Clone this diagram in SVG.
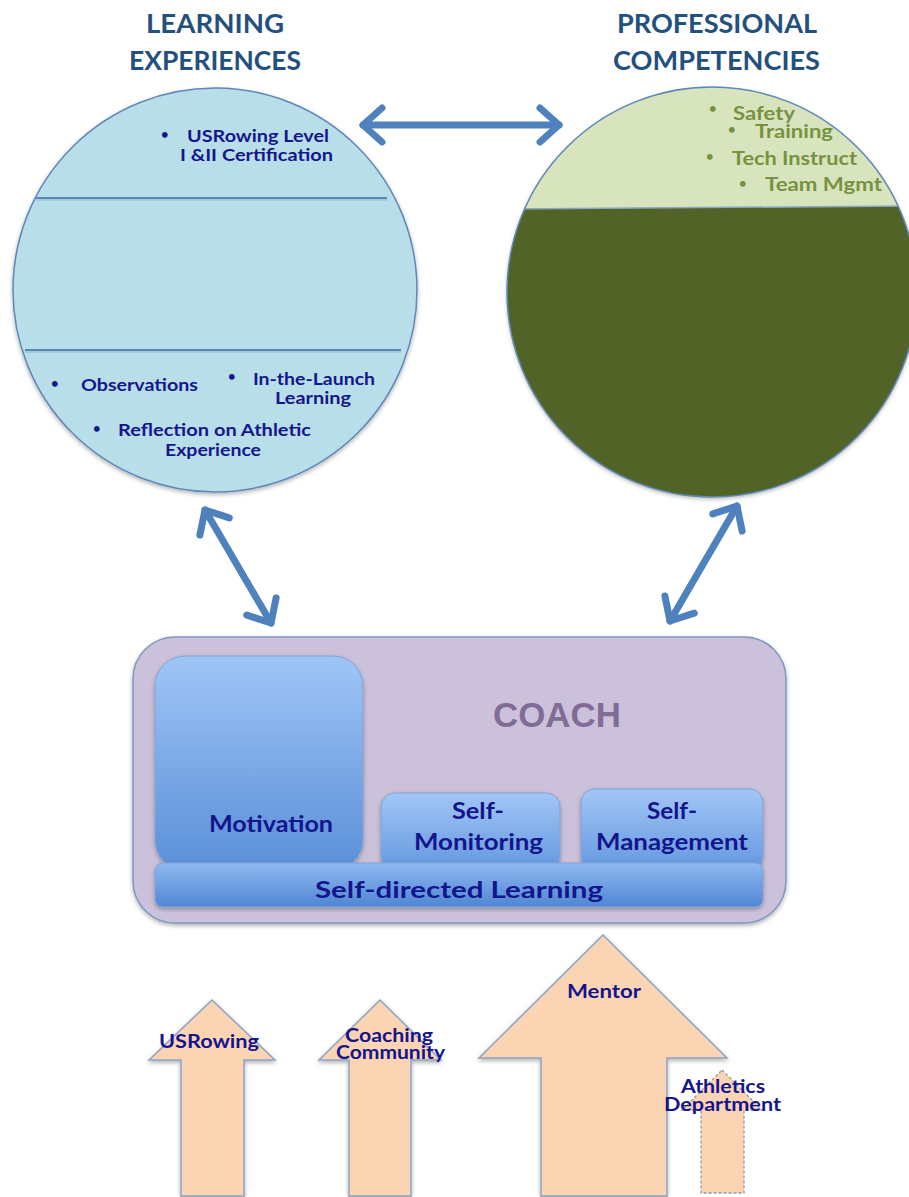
<svg xmlns="http://www.w3.org/2000/svg" width="909" height="1197" viewBox="0 0 909 1197">
<style>
.title{font-family:Lato,"Open Sans","Liberation Sans",sans-serif;font-weight:bold;font-size:27px;fill:#23507d}
.lt{font-family:Lato,"Open Sans","Liberation Sans",sans-serif;font-weight:bold;font-size:17px;fill:#16168c}
.rt{font-family:Lato,"Open Sans","Liberation Sans",sans-serif;font-weight:bold;font-size:19px;fill:#77923f}
.bl{font-size:13px}
.bx{font-family:Lato,"Open Sans","Liberation Sans",sans-serif;font-weight:bold;font-size:22px;fill:#14148c}
.ar{font-family:Lato,"Open Sans","Liberation Sans",sans-serif;font-weight:bold;font-size:19px;fill:#14148c}
.coach{font-family:"Liberation Sans",Arial,sans-serif;font-weight:bold;font-size:35px;fill:#806c96}
.conn{fill:none;stroke:#4f81bd;stroke-width:7;stroke-linecap:round;marker-start:url(#chev);marker-end:url(#chev)}
.up{fill:#fbd4b4;stroke:#8ca3c4;stroke-width:1.5;filter:url(#sh)}
.div{stroke:#5a85b2;stroke-width:2}
.blue{stroke:#7fa4d9;stroke-width:1}
</style>
<defs>
<marker id="chev" markerUnits="userSpaceOnUse" markerWidth="50" markerHeight="50" viewBox="-30 -25 50 50" refX="0" refY="0" orient="auto-start-reverse" overflow="visible">
<path d="M-19,-17 L0,0 L-19,17" fill="none" stroke="#4f81bd" stroke-width="7" stroke-linecap="round" stroke-linejoin="round"/>
</marker>
<filter id="sh" x="-10%" y="-10%" width="120%" height="120%">
<feDropShadow dx="0" dy="2" stdDeviation="2" flood-color="#000" flood-opacity="0.3"/>
</filter>
<linearGradient id="gb" x1="0" y1="0" x2="0" y2="1">
<stop offset="0" stop-color="#9fc5f6"/>
<stop offset="1" stop-color="#5a8fd8"/>
</linearGradient>
<linearGradient id="gs" x1="0" y1="0" x2="0" y2="1">
<stop offset="0" stop-color="#a2c6f6"/>
<stop offset="1" stop-color="#6398df"/>
</linearGradient>
<linearGradient id="gbar" x1="0" y1="0" x2="0" y2="1">
<stop offset="0" stop-color="#8fbaf2"/>
<stop offset="0.5" stop-color="#6f9fe2"/>
<stop offset="1" stop-color="#4f86d3"/>
</linearGradient>
<clipPath id="cl"><circle cx="215" cy="290" r="202"/></clipPath>
<clipPath id="cr"><circle cx="712" cy="292" r="205"/></clipPath>
</defs>
<rect width="909" height="1197" fill="#fff"/>

<g id="title-learning">
<text class="title" x="146" y="33" textLength="138" lengthAdjust="spacingAndGlyphs">LEARNING</text>
<text class="title" x="129" y="70" textLength="172" lengthAdjust="spacingAndGlyphs">EXPERIENCES</text>
</g>
<g id="title-professional">
<text class="title" x="617" y="33" textLength="200" lengthAdjust="spacingAndGlyphs">PROFESSIONAL</text>
<text class="title" x="613" y="70" textLength="207" lengthAdjust="spacingAndGlyphs">COMPETENCIES</text>
</g>

<g id="learning-experiences">
<circle cx="215" cy="290" r="202" fill="#b8dee9" stroke="#5f88b8" stroke-width="1.5" filter="url(#sh)"/>
<g clip-path="url(#cl)">
<line class="div" x1="36" y1="198" x2="387" y2="198"/>
<line x1="36" y1="200" x2="387" y2="200" stroke="#9cc3da" stroke-width="1.5"/>
<line class="div" x1="25" y1="350" x2="401" y2="350"/>
<line x1="25" y1="352" x2="401" y2="352" stroke="#9cc3da" stroke-width="1.5"/>
</g>
<text class="lt bl" x="161" y="139">•</text>
<text class="lt" x="187" y="142" textLength="142" lengthAdjust="spacingAndGlyphs">USRowing Level</text>
<text class="lt" x="180" y="161" textLength="153" lengthAdjust="spacingAndGlyphs">I &amp;II Certification</text>
<text class="lt bl" x="51" y="388">•</text>
<text class="lt" x="81" y="391" textLength="117" lengthAdjust="spacingAndGlyphs">Observations</text>
<text class="lt bl" x="228" y="381">•</text>
<text class="lt" x="253" y="385" textLength="122" lengthAdjust="spacingAndGlyphs">In-the-Launch</text>
<text class="lt" x="275" y="404" textLength="76" lengthAdjust="spacingAndGlyphs">Learning</text>
<text class="lt bl" x="93" y="433">•</text>
<text class="lt" x="118" y="436" textLength="193" lengthAdjust="spacingAndGlyphs">Reflection on Athletic</text>
<text class="lt" x="165" y="456" textLength="96" lengthAdjust="spacingAndGlyphs">Experience</text>
</g>

<g id="professional-competencies">
<circle cx="712" cy="292" r="205" fill="#516328" filter="url(#sh)"/>
<polygon points="500,80 920,80 920,206 500,209" fill="#d7e4bd" clip-path="url(#cr)"/>
<line x1="500" y1="209" x2="920" y2="206" stroke="#8aa6c0" stroke-width="1.5" clip-path="url(#cr)"/>
<circle cx="712" cy="292" r="205" fill="none" stroke="#5f88b8" stroke-width="1.5"/>
<text class="rt bl" x="709" y="113">•</text>
<text class="rt" x="733" y="120" textLength="62" lengthAdjust="spacingAndGlyphs">Safety</text>
<text class="rt bl" x="728" y="134">•</text>
<text class="rt" x="755" y="138" textLength="78" lengthAdjust="spacingAndGlyphs">Training</text>
<text class="rt bl" x="706" y="161">•</text>
<text class="rt" x="732" y="165" textLength="125" lengthAdjust="spacingAndGlyphs">Tech Instruct</text>
<text class="rt bl" x="739" y="188">•</text>
<text class="rt" x="765" y="191" textLength="117" lengthAdjust="spacingAndGlyphs">Team Mgmt</text>
</g>

<g id="coach">
<rect x="133" y="637" width="653" height="286" rx="42" fill="#ccc1da" stroke="#7f96c0" stroke-width="1.5" filter="url(#sh)"/>
<text class="coach" x="493" y="727" textLength="128" lengthAdjust="spacingAndGlyphs">COACH</text>
</g>
<g id="motivation">
<rect class="blue" x="155" y="656" width="208" height="214" rx="30" fill="url(#gb)" filter="url(#sh)"/>
<text class="bx" x="209" y="832" textLength="124" lengthAdjust="spacingAndGlyphs">Motivation</text>
</g>
<g id="self-monitoring">
<rect class="blue" x="381" y="793" width="179" height="77" rx="14" fill="url(#gs)" filter="url(#sh)"/>
<text class="bx" x="452" y="819" textLength="52" lengthAdjust="spacingAndGlyphs">Self-</text>
<text class="bx" x="414" y="850" textLength="129" lengthAdjust="spacingAndGlyphs">Monitoring</text>
</g>
<g id="self-management">
<rect class="blue" x="581" y="789" width="182" height="81" rx="14" fill="url(#gs)" filter="url(#sh)"/>
<text class="bx" x="647" y="819" textLength="50" lengthAdjust="spacingAndGlyphs">Self-</text>
<text class="bx" x="596" y="850" textLength="152" lengthAdjust="spacingAndGlyphs">Management</text>
</g>
<g id="self-directed-learning">
<rect class="blue" x="155" y="863" width="608" height="44" rx="8" fill="url(#gbar)" filter="url(#sh)"/>
<text class="bx" x="315" y="898" font-size="25" textLength="288" lengthAdjust="spacingAndGlyphs">Self-directed Learning</text>
</g>

<g id="usrowing">
<polygon class="up" points="212,1000 275,1060 244,1060 244,1196 181,1196 181,1060 149,1060"/>
<text class="ar" x="159" y="1048" textLength="100" lengthAdjust="spacingAndGlyphs">USRowing</text>
</g>
<g id="coaching-community">
<polygon class="up" points="380,1000 441,1060 411,1060 411,1196 349,1196 349,1060 319,1060"/>
<text class="ar" x="345" y="1042" textLength="88" lengthAdjust="spacingAndGlyphs">Coaching</text>
<text class="ar" x="336" y="1059" textLength="109" lengthAdjust="spacingAndGlyphs">Community</text>
</g>
<g id="mentor">
<polygon class="up" points="603,935 727,1058 667,1058 667,1196 541,1196 541,1058 479,1058"/>
<text class="ar" x="567" y="998" font-size="20" textLength="74" lengthAdjust="spacingAndGlyphs">Mentor</text>
</g>
<g id="athletics-department">
<polygon points="722,1070 762,1110 744,1110 744,1193 701,1193 701,1110 682,1110" fill="#fbd4b4" stroke="#8f9aa8" stroke-width="1.3" stroke-dasharray="3 2"/>
<text class="ar" x="681" y="1093" font-size="18" textLength="84" lengthAdjust="spacingAndGlyphs">Athletics</text>
<text class="ar" x="664" y="1111" font-size="18" textLength="117" lengthAdjust="spacingAndGlyphs">Department</text>
</g>

<g id="connectors">
<line class="conn" x1="363" y1="125" x2="559" y2="125"/>
<line class="conn" x1="205" y1="510" x2="271" y2="623"/>
<line class="conn" x1="737" y1="506" x2="670" y2="621"/>
</g>
</svg>
